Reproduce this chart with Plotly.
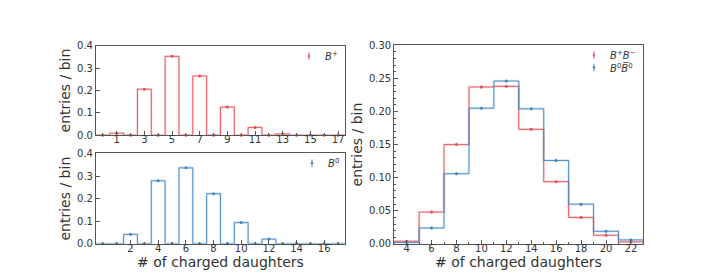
import plotly.graph_objects as go

# ---- data ----
bp_bins = list(range(0, 18))
bp_vals = [0.0, 0.009, 0.0, 0.206, 0.0, 0.353, 0.0, 0.265, 0.0, 0.126, 0.0, 0.035, 0.0, 0.006, 0.0, 0.001, 0.0, 0.0]
b0_bins = list(range(0, 18))
b0_vals = [0.0, 0.0, 0.042, 0.0, 0.279, 0.0, 0.336, 0.0, 0.222, 0.0, 0.094, 0.0, 0.021, 0.0, 0.003, 0.0, 0.0, 0.0]
comb_bins = [4, 6, 8, 10, 12, 14, 16, 18, 20, 22]
bpbm_vals = [0.004, 0.048, 0.150, 0.237, 0.238, 0.173, 0.094, 0.040, 0.013, 0.003]
b0b0_vals = [0.002, 0.024, 0.106, 0.205, 0.246, 0.204, 0.126, 0.060, 0.019, 0.006]
top_ticks = [1, 3, 5, 7, 9, 11, 13, 15, 17]
bot_ticks = [2, 4, 6, 8, 10, 12, 14, 16]
right_ticks = [4, 6, 8, 10, 12, 14, 16, 18, 20, 22]
x_title = "# of charged daughters"
y_title = "entries / bin"

RED = "#e4505a"
RED_L = "rgba(232,71,79,0.18)"
BLUE = "#3f88c5"
BLUE_L = "rgba(59,134,198,0.18)"

def step_xy(centers, vals, width):
    xs, ys = [], []
    for c, v in zip(centers, vals):
        xs += [c - width / 2, c + width / 2]
        ys += [v, v]
    return xs, ys

fig = go.Figure()

def add_hist(centers, vals, width, color, light, xa, ya, err):
    xs, ys = step_xy(centers, vals, width)
    xs = [xs[0]] + xs + [xs[-1]]
    ys = [0] + ys + [0]
    fig.add_trace(go.Scatter(x=xs, y=ys, mode="lines", line=dict(color=light, width=2.5),
                             xaxis=xa, yaxis=ya, showlegend=False, hoverinfo="skip"))
    fig.add_trace(go.Scatter(x=xs, y=ys, mode="lines", line=dict(color=color, width=0.9),
                             xaxis=xa, yaxis=ya, showlegend=False, hoverinfo="skip"))
    fig.add_trace(go.Scatter(x=centers, y=vals, mode="markers",
                             marker=dict(color=color, size=3),
                             error_y=dict(type="constant", value=err, color=color, thickness=1, width=0),
                             xaxis=xa, yaxis=ya, showlegend=False, cliponaxis=False))

add_hist(bp_bins, bp_vals, 1, RED, RED_L, "x", "y", 0.004)
add_hist(b0_bins, b0_vals, 1, BLUE, BLUE_L, "x2", "y2", 0.004)
add_hist(comb_bins, bpbm_vals, 2, RED, RED_L, "x3", "y3", 0.002)
add_hist(comb_bins, b0b0_vals, 2, BLUE, BLUE_L, "x3", "y3", 0.002)

FONT = "DejaVu Sans"
AX = "#555555"
TXT = "#333333"

def xaxis(dom, rng, ticks, anchor):
    return dict(domain=dom, range=rng, tickmode="array", tickvals=ticks, ticktext=[str(t) for t in ticks],
                ticks="inside", ticklen=4, tickcolor=AX, showline=True, linecolor=AX, linewidth=1, mirror=True,
                showgrid=False, zeroline=False, anchor=anchor, tickfont=dict(size=10, color=TXT, family=FONT),
                ticklabelstandoff=-5,
                minor=dict(ticks="inside", ticklen=2, tickcolor=AX, dtick=1, tick0=0))

def yaxis(dom, rng, dtick, fmt, anchor, minor=None):
    d = dict(domain=dom, range=rng, dtick=dtick, tick0=0, tickformat=fmt,
             ticks="inside", ticklen=4, tickcolor=AX, showline=True, linecolor=AX, linewidth=1, mirror=True,
             showgrid=False, zeroline=False, anchor=anchor, tickfont=dict(size=10, color=TXT, family=FONT),
             title=dict(text=y_title, font=dict(size=14, color=TXT, family=FONT), standoff=3))
    if minor:
        d["minor"] = dict(ticks="inside", ticklen=2, tickcolor=AX, dtick=minor, tick0=0)
    return d

fig.update_layout(
    width=706, height=275, margin=dict(l=0, r=0, t=0, b=0),
    paper_bgcolor="white", plot_bgcolor="white", showlegend=False,
    font=dict(family=FONT, color=TXT),
    xaxis=xaxis([0.1246, 0.4773], [-0.5, 17.5], top_ticks, "y"),
    yaxis=yaxis([0.539, 0.879], [0, 0.4], 0.1, ".1f", "x"),
    xaxis2=xaxis([0.1246, 0.4773], [-0.5, 17.5], bot_ticks, "y2"),
    yaxis2=yaxis([0.126, 0.470], [0, 0.4], 0.1, ".1f", "x2"),
    xaxis3=xaxis([0.547, 0.900], [3, 23], right_ticks, "y3"),
    yaxis3=yaxis([0.126, 0.881], [0, 0.30], 0.05, ".2f", "x3", minor=0.01),
)

# x-axis titles
for xc in [(0.1246 + 0.4773) / 2, (0.547 + 0.900) / 2]:
    fig.add_annotation(xref="paper", yref="paper", x=xc, y=1 - 259 / 275, xanchor="center", yanchor="middle",
                       text=x_title, showarrow=False, font=dict(size=14, color=TXT, family=FONT))

# legends (custom, matplotlib-like errorbar handle)
def legend_entry(xp, yp, color, text):
    fig.add_shape(type="line", xref="paper", yref="paper", x0=xp, x1=xp, y0=yp - 0.014, y1=yp + 0.014,
                  line=dict(color=color, width=1))
    fig.add_shape(type="circle", xref="paper", yref="paper", x0=xp - 0.0018, x1=xp + 0.0018,
                  y0=yp - 0.0045, y1=yp + 0.0045, fillcolor=color, line=dict(width=0))
    fig.add_annotation(xref="paper", yref="paper", x=xp + 0.02, y=yp, xanchor="left", yanchor="middle",
                       text=text, showarrow=False, font=dict(size=10, color=TXT, family=FONT))

legend_entry(301 / 706, 1 - 44 / 275, RED, "<i>B</i><sup>+</sup>")
legend_entry(304 / 706, 1 - 156 / 275, BLUE, "<i>B</i><sup>0</sup>")
legend_entry(586 / 706, 1 - 43 / 275, RED, "<i>B</i><sup>+</sup><i>B</i><sup>\u2212</sup>")
legend_entry(586 / 706, 1 - 56 / 275, BLUE, "<i>B</i><sup>0</sup><i>B\u0305</i><sup>0</sup>")

fig.write_html("out.html")
